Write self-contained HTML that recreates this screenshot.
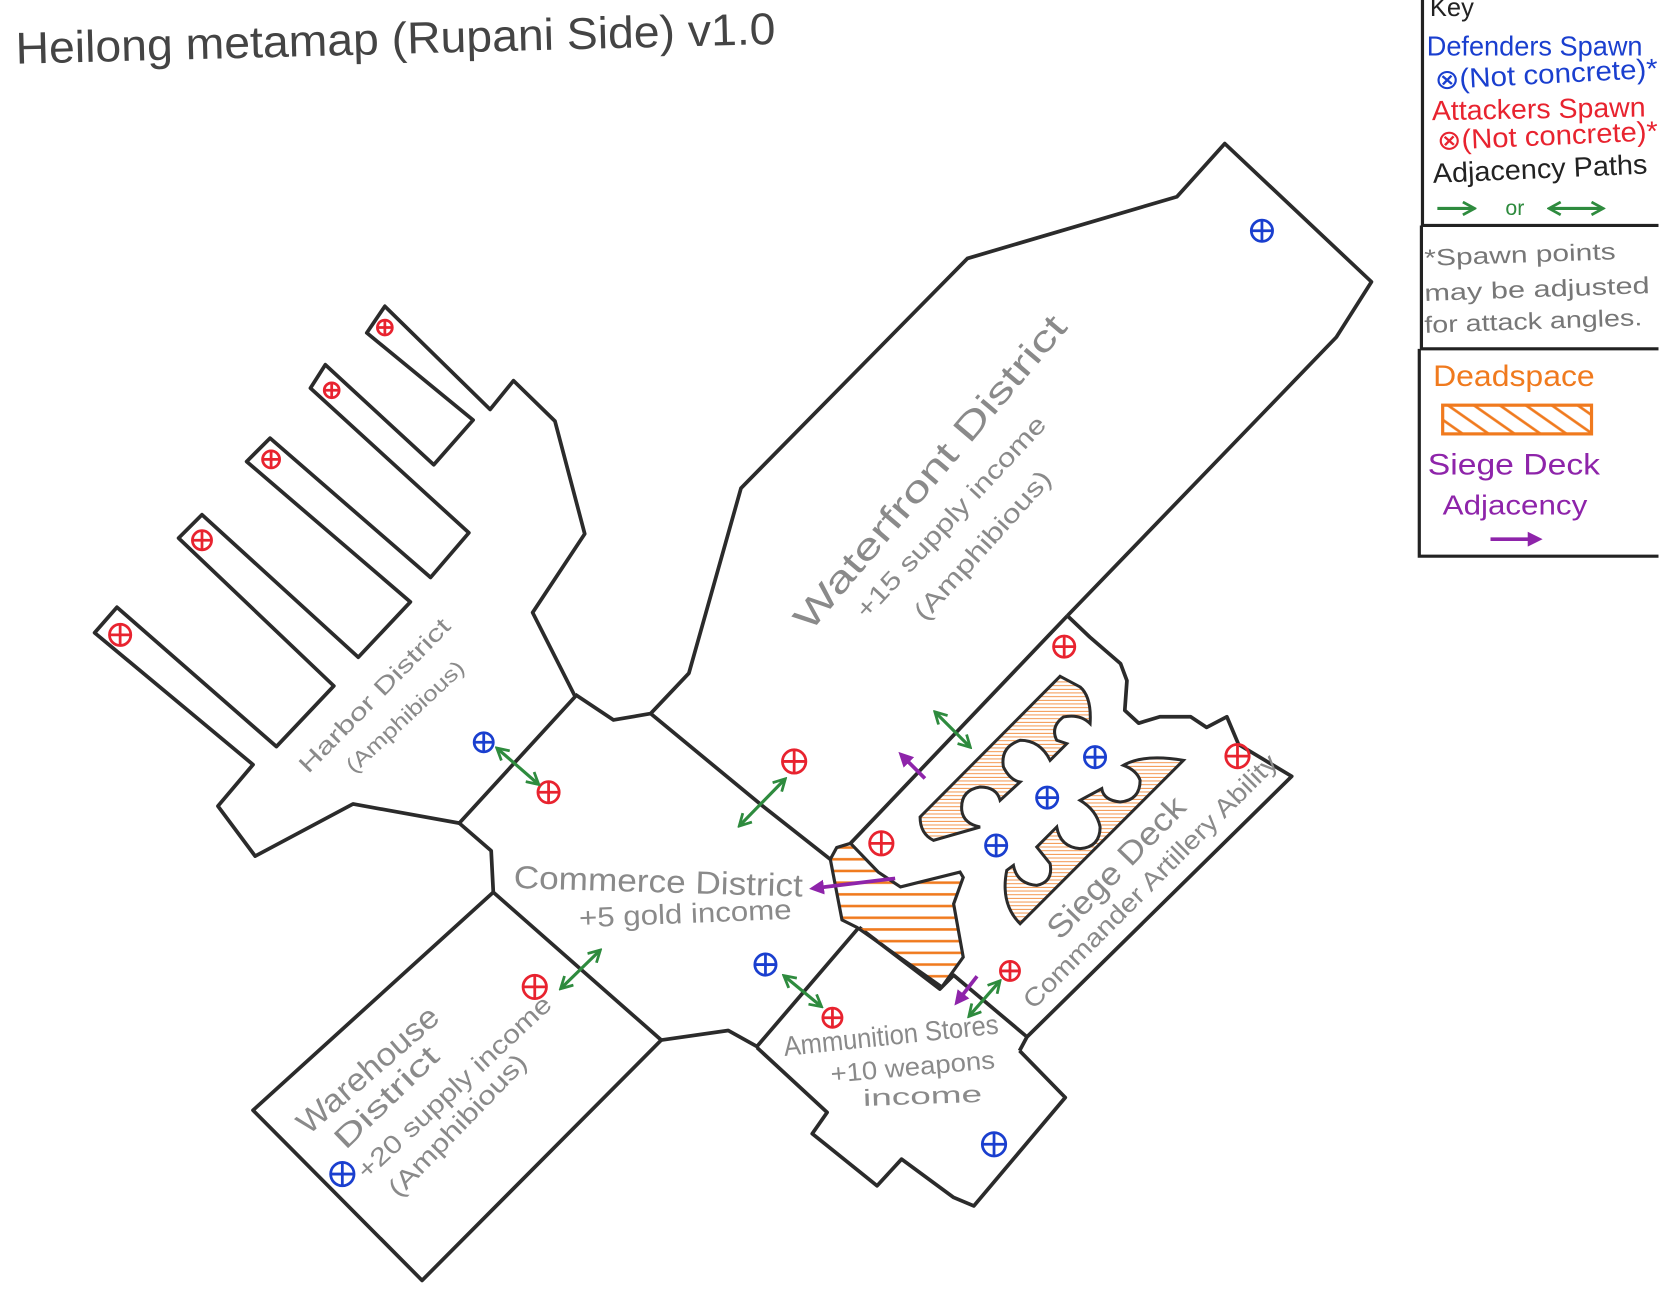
<!DOCTYPE html>
<html><head><meta charset="utf-8"><style>
html,body{margin:0;padding:0;background:#fff;}
svg{display:block;}
text{font-family:"Liberation Sans",sans-serif;}
</style></head><body>
<svg width="1667" height="1307" viewBox="0 0 1568 1229" preserveAspectRatio="none" xmlns="http://www.w3.org/2000/svg">
<defs>
<pattern id="hatch" patternUnits="userSpaceOnUse" width="20" height="11">
<line x1="0" y1="5" x2="20" y2="5" stroke="#f07a1e" stroke-width="2.4"/>
</pattern>
<pattern id="hatch2" patternUnits="userSpaceOnUse" width="14" height="14" patternTransform="rotate(35)">
<line x1="0" y1="7" x2="14" y2="7" stroke="#f07a1e" stroke-width="2.5"/>
</pattern>
<marker id="ga" markerWidth="14" markerHeight="14" refX="11" refY="7" orient="auto-start-reverse" markerUnits="userSpaceOnUse" viewBox="0 0 14 14">
<path d="M1,1 L12,7 L1,13" fill="none" stroke="#2e8b3e" stroke-width="2.6"/>
</marker>
<marker id="pa" markerWidth="14" markerHeight="14" refX="7" refY="7" orient="auto" markerUnits="userSpaceOnUse" viewBox="0 0 14 14">
<path d="M0,0 L14,7 L0,14 Z" fill="#8e24aa"/>
</marker>
</defs>
<rect width="1568" height="1229" fill="#fff"/>

<g fill="none" stroke="#2b2b2b" stroke-width="3.5" stroke-linejoin="round">
<path d="M541,655 L501,576 L550,502 L522,396 L483,358 L461,385 L362,288 L345,313 L445,395 L408,437 L306,343 L292,365 L441,501 L405,543 L254,412 L232,434 L386,566 L337,618 L190,484 L168,506 L314,645 L260,702 L110,571 L89,595 L238,719 L205,758 L240,805 L332,756 L432,774 Z"/>
<path d="M541,653 L577,677 L612,671 L648,633 L697,459 L910,243 L1107,185 L1152,135 L1290,265 L1257,317 L1202,374 L1004,579"/>
<path d="M1004,579 L1025,599 L1054,624 L1060,640 L1058,668 L1071,680 L1091,674 L1120,674 L1135,684 L1154,674 L1165,700 L1215,730 L966,975 L959,988"/>
<path d="M1004,579 L800,793"/>
<path d="M612,671 L715,756 L781,808"/>
<path d="M432,774 L462,800 L464,839 L622,978 L685,969 L712,984 L808,872"/>
<path d="M464,839 L238,1044 L397,1204 L622,978"/>
<path d="M808,872 L884,930 L897,917 L966,975 M959,988 L1002,1032 L916,1134 L897,1126 L848,1090 L825,1115 L764,1066 L778,1046 L712,985"/>
</g>

<path d="M787,797 L800,793 L826,820 L847,834 L903,820 L906,825 L897,850 L906,900 L886,928 L806,872 L792,865 L781,808 Z" fill="url(#hatch)" stroke="#2b2b2b" stroke-width="3"/>
<g transform="scale(0.9407) translate(760,570) scale(0.33333)" stroke="#2b2b2b" stroke-width="9" fill="url(#hatch)">
<path d="M900,318 L960,350 Q995,380 990,460 Q960,430 910,440 Q870,470 890,510 L920,520 L870,570 Q840,510 780,510 Q720,530 730,590 Q750,630 780,635 L720,690 Q710,650 660,650 Q600,660 605,720 Q610,760 660,770 L520,810 Q480,790 480,740 Z"/>
<path d="M1270,570 L780,1060 Q720,1000 740,900 L760,885 Q770,940 830,945 Q880,935 870,880 L830,830 L890,770 Q900,830 960,835 Q1020,830 1020,770 Q1010,720 960,690 L1025,655 Q1030,690 1080,695 Q1140,690 1140,630 Q1130,600 1090,585 Q1150,550 1270,570 Z"/>
</g>

<g fill="none" stroke-width="2.6">
<g stroke="#1a3fcf">
<circle cx="1187" cy="217" r="10"/><path d="M1177,217 H1197 M1187,207 V227"/>
<circle cx="455" cy="698" r="9"/><path d="M446,698 H464 M455,689 V707"/>
<circle cx="1030" cy="712" r="10"/><path d="M1020,712 H1040 M1030,702 V722"/>
<circle cx="985" cy="750" r="10"/><path d="M975,750 H995 M985,740 V760"/>
<circle cx="937" cy="795" r="10"/><path d="M927,795 H947 M937,785 V805"/>
<circle cx="720" cy="907" r="10"/><path d="M710,907 H730 M720,897 V917"/>
<circle cx="322" cy="1104" r="11"/><path d="M311,1104 H333 M322,1093 V1115"/>
<circle cx="935" cy="1076" r="11"/><path d="M924,1076 H946 M935,1065 V1087"/>
</g>
<g stroke="#e8232f">
<circle cx="362" cy="308" r="7"/><path d="M355,308 H369 M362,301 V315"/>
<circle cx="312" cy="367" r="7"/><path d="M305,367 H319 M312,360 V374"/>
<circle cx="255" cy="432" r="8"/><path d="M247,432 H263 M255,424 V440"/>
<circle cx="190" cy="508" r="9"/><path d="M181,508 H199 M190,499 V517"/>
<circle cx="113" cy="597" r="10"/><path d="M103,597 H123 M113,587 V607"/>
<circle cx="516" cy="745" r="10"/><path d="M506,745 H526 M516,735 V755"/>
<circle cx="747" cy="716" r="11"/><path d="M736,716 H758 M747,705 V727"/>
<circle cx="1001" cy="608" r="10"/><path d="M991,608 H1011 M1001,598 V618"/>
<circle cx="1164" cy="711" r="11"/><path d="M1153,711 H1175 M1164,700 V722"/>
<circle cx="829" cy="793" r="11"/><path d="M818,793 H840 M829,782 V804"/>
<circle cx="503" cy="928" r="11"/><path d="M492,928 H514 M503,917 V939"/>
<circle cx="783" cy="957" r="9"/><path d="M774,957 H792 M783,948 V966"/>
<circle cx="950" cy="913" r="9"/><path d="M941,913 H959 M950,904 V922"/>
</g>
</g>

<g stroke="#2e8b3e" stroke-width="3" fill="none" marker-start="url(#ga)" marker-end="url(#ga)">
<line x1="468" y1="704" x2="506" y2="737"/>
<line x1="696" y1="776" x2="738" y2="733"/>
<line x1="528" y1="929" x2="564" y2="894"/>
<line x1="738" y1="918" x2="772" y2="946"/>
<line x1="880" y1="670" x2="912" y2="702"/>
<line x1="912" y1="955" x2="940" y2="923"/>
</g>
<g stroke="#8e24aa" stroke-width="3.5" fill="none" marker-end="url(#pa)">
<line x1="870" y1="732" x2="850" y2="712"/>
<line x1="842" y1="826" x2="768" y2="835"/>
<line x1="919" y1="918" x2="902" y2="940"/>
</g>

<g fill="#8a8a8a">
<text transform="translate(290,728) rotate(-45.6)" font-size="22" textLength="193" lengthAdjust="spacingAndGlyphs">Harbor District</text>
<text transform="translate(333,728) rotate(-43)" font-size="20" textLength="144" lengthAdjust="spacingAndGlyphs">(Amphibious)</text>
<text transform="translate(762,595) rotate(-49.7)" font-size="34" textLength="376" lengthAdjust="spacingAndGlyphs">Waterfront District</text>
<text transform="translate(815,583) rotate(-47)" font-size="24" textLength="250" lengthAdjust="spacingAndGlyphs">+15 supply income</text>
<text transform="translate(870,585) rotate(-48)" font-size="24" textLength="180" lengthAdjust="spacingAndGlyphs">(Amphibious)</text>
<text transform="translate(483,835) rotate(1.7)" font-size="30" textLength="272" lengthAdjust="spacingAndGlyphs">Commerce District</text>
<text transform="translate(545,872) rotate(-2.3)" font-size="26" textLength="200" lengthAdjust="spacingAndGlyphs">+5 gold income</text>
<text transform="translate(290,1068) rotate(-41)" font-size="30" textLength="166" lengthAdjust="spacingAndGlyphs">Warehouse</text>
<text transform="translate(325,1082) rotate(-44)" font-size="28" textLength="125" lengthAdjust="spacingAndGlyphs">District</text>
<text transform="translate(345,1110) rotate(-43)" font-size="24" textLength="240" lengthAdjust="spacingAndGlyphs">+20 supply income</text>
<text transform="translate(375,1127) rotate(-46)" font-size="24" textLength="176" lengthAdjust="spacingAndGlyphs">(Amphibious)</text>
<text transform="translate(738,993) rotate(-6)" font-size="26" textLength="203" lengthAdjust="spacingAndGlyphs">Ammunition Stores</text>
<text transform="translate(782,1018) rotate(-5)" font-size="24" textLength="155" lengthAdjust="spacingAndGlyphs">+10 weapons</text>
<text transform="translate(812,1040) rotate(-2)" font-size="22" textLength="112" lengthAdjust="spacingAndGlyphs">income</text>
<text transform="translate(997,885) rotate(-46)" font-size="30" textLength="173" lengthAdjust="spacingAndGlyphs">Siege Deck</text>
<text transform="translate(972,950) rotate(-45)" font-size="24" textLength="327" lengthAdjust="spacingAndGlyphs">Commander Artillery Ability</text>
</g>

<text transform="translate(15,60) rotate(-1.5)" font-size="42" fill="#444" textLength="715" lengthAdjust="spacingAndGlyphs">Heilong metamap (Rupani Side) v1.0</text>

<g fill="none" stroke="#222" stroke-width="3">
<path d="M1338,0 V212 H1560"/>
<path d="M1337,212 V328 H1560"/>
<path d="M1335,328 V523 H1560"/>
</g>
<g font-size="26">
<text x="1345" y="15" fill="#222" font-size="24">Key</text>
<text x="1342" y="52" fill="#1a3fcf" textLength="203" lengthAdjust="spacingAndGlyphs">Defenders Spawn</text>
<text transform="translate(1350,84) rotate(-3)" fill="#1a3fcf" textLength="210" lengthAdjust="spacingAndGlyphs">⊗(Not concrete)*</text>
<text transform="translate(1347,113) rotate(-1)" fill="#e8232f" textLength="201" lengthAdjust="spacingAndGlyphs">Attackers Spawn</text>
<text transform="translate(1352,141) rotate(-2.5)" fill="#e8232f" textLength="208" lengthAdjust="spacingAndGlyphs">⊗(Not concrete)*</text>
<text transform="translate(1348,172) rotate(-2.5)" fill="#222" textLength="202" lengthAdjust="spacingAndGlyphs">Adjacency Paths</text>
<text x="1416" y="202" fill="#2e8b3e" font-size="20">or</text>
<text transform="translate(1340,250) rotate(-2)" fill="#777" font-size="22" textLength="180" lengthAdjust="spacingAndGlyphs">*Spawn points</text>
<text transform="translate(1340,283) rotate(-2)" fill="#777" font-size="22" textLength="212" lengthAdjust="spacingAndGlyphs">may be adjusted</text>
<text transform="translate(1340,313) rotate(-2)" fill="#777" font-size="22" textLength="205" lengthAdjust="spacingAndGlyphs">for attack angles.</text>
<text x="1348" y="363" fill="#f07a1e" font-size="28" textLength="152" lengthAdjust="spacingAndGlyphs">Deadspace</text>
<text x="1343" y="446" fill="#8e24aa" font-size="28" textLength="162" lengthAdjust="spacingAndGlyphs">Siege Deck</text>
<text x="1357" y="484" fill="#8e24aa" font-size="26" textLength="136" lengthAdjust="spacingAndGlyphs">Adjacency</text>
</g>
<rect x="1357" y="381" width="140" height="27" fill="url(#hatch2)" stroke="#f07a1e" stroke-width="3"/>
<g stroke="#2e8b3e" stroke-width="3" fill="none">
<line x1="1352" y1="196" x2="1386" y2="196" marker-end="url(#ga)"/>
<line x1="1458" y1="196" x2="1507" y2="196" marker-start="url(#ga)" marker-end="url(#ga)"/>
</g>
<line x1="1402" y1="507" x2="1444" y2="507" stroke="#8e24aa" stroke-width="3.5" marker-end="url(#pa)"/>
</svg>
</body></html>
